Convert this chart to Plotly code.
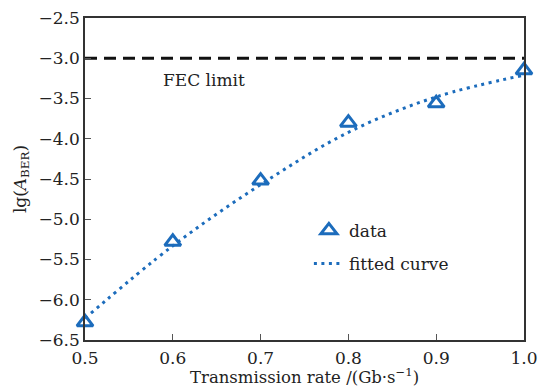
import plotly.graph_objects as go

# data
rate = [0.5, 0.6, 0.7, 0.8, 0.9, 1.0]
lg_ber = [-6.28, -5.28, -4.52, -3.80, -3.56, -3.15]
fit_x = [0.5, 0.6, 0.7, 0.8, 0.9, 1.0]
fit_y = [-6.23, -5.33, -4.57, -3.92, -3.48, -3.21]
fec_x = [0.5, 1.0]
fec_y = [-3.0, -3.0]
x_ticks = [0.5, 0.6, 0.7, 0.8, 0.9, 1.0]
x_ticklabels = ["0.5", "0.6", "0.7", "0.8", "0.9", "1.0"]
y_ticks = [-2.5, -3.0, -3.5, -4.0, -4.5, -5.0, -5.5, -6.0, -6.5]
y_ticklabels = ["\u22122.5", "\u22123.0", "\u22123.5", "\u22124.0", "\u22124.5",
                "\u22125.0", "\u22125.5", "\u22126.0", "\u22126.5"]
x_title = "Transmission rate /(Gb\u00b7s<sup>\u22121</sup>)"
y_title = "lg(<i>A</i><sub>BER</sub>)"

FONT = "DejaVu Serif"
BLUE = "#1c6cbc"
TXT = "#222222"

fig = go.Figure()
fig.add_trace(go.Scatter(x=fec_x, y=fec_y, mode="lines",
                         line=dict(color="#111111", width=3, dash="12px,7px"),
                         showlegend=False, hoverinfo="skip"))
fig.add_trace(go.Scatter(x=fit_x, y=fit_y, mode="lines", name="fitted curve",
                         line=dict(color=BLUE, width=3, dash="3px,4.5px", shape="spline"),
                         legendgroup="b", legendrank=2))
fig.add_trace(go.Scatter(x=rate, y=lg_ber, mode="markers", name="data",
                         marker=dict(symbol="triangle-up-open", size=14, color=BLUE,
                                     line=dict(color=BLUE, width=3)),
                         cliponaxis=False, legendgroup="a", legendrank=1))

fig.add_annotation(x=0.636, y=-3.27, text="FEC limit", showarrow=False,
                   font=dict(family=FONT, size=17, color=TXT))
fig.add_annotation(x=0.5, xref="paper", y=0, yref="paper", yanchor="bottom",
                   yshift=-48, text=x_title, showarrow=False, borderpad=0,
                   font=dict(family=FONT, size=16.5, color=TXT))

axis_common = dict(showline=True, linecolor="#333333", linewidth=1.5, mirror=True,
                   ticks="inside", ticklen=6, tickcolor="#555555", tickwidth=1,
                   showgrid=False, zeroline=False, automargin=False,
                   tickfont=dict(family=FONT, size=17, color=TXT))

fig.update_layout(
    width=540, height=388,
    margin=dict(l=85, r=16, t=18, b=48),
    paper_bgcolor="white", plot_bgcolor="white",
    xaxis=dict(range=[0.5, 1.0], tickvals=x_ticks, ticktext=x_ticklabels,
               ticklabelstandoff=2, **axis_common),
    yaxis=dict(range=[-6.5, -2.5], tickvals=y_ticks, ticktext=y_ticklabels,
               title=dict(text=y_title,
                          font=dict(family=FONT, size=17, color=TXT), standoff=8),
               **axis_common),
    legend=dict(x=0.51, y=0.395, xanchor="left", yanchor="top",
                font=dict(family=FONT, size=17, color=TXT),
                bgcolor="rgba(0,0,0,0)", tracegroupgap=8, traceorder="grouped"),
)

fig.write_html("out.html")
